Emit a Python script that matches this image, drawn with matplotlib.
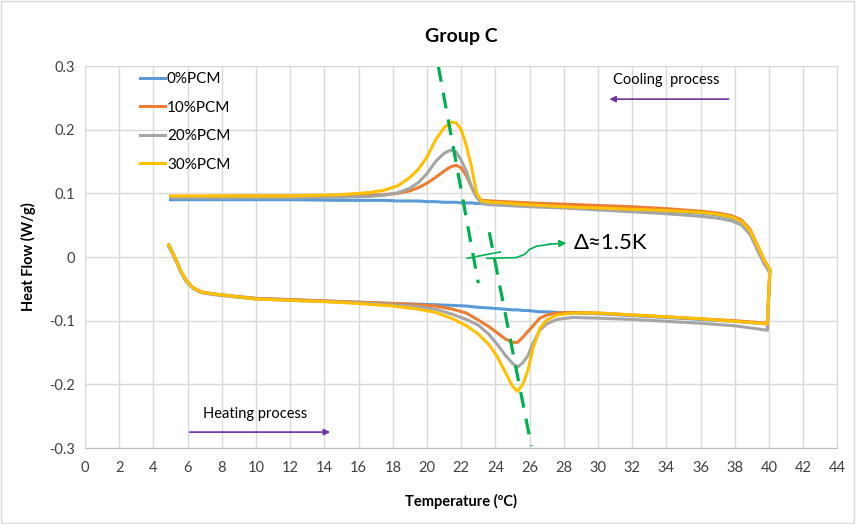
import matplotlib.pyplot as plt
from matplotlib.patches import Rectangle

plt.rcParams['font.family'] = ['Lato', 'DejaVu Sans']

series_labels = ['0%PCM', '10%PCM', '20%PCM', '30%PCM']
series_colors = ['#5B9BD5', '#ED7D31', '#A5A5A5', '#FFC000']

# heating branch (5 -> 40 C)
heat_x = [4.9, 5.1, 5.35, 5.6, 5.9, 6.3, 6.8, 7.5, 8.5, 10, 12, 14, 16, 18, 19.5, 20.5, 21.5, 22.3, 23.0,
          23.6, 24.1, 24.6, 25.0, 25.3, 25.6, 25.9, 26.2, 26.6, 27.0, 27.6, 28.5, 30, 32, 34, 36, 38, 39.9]
heat_0 = [0.019, 0.008, -0.006, -0.022, -0.036, -0.048, -0.055, -0.058, -0.061, -0.065, -0.067, -0.069,
          -0.071, -0.073, -0.074, -0.075, -0.076, -0.077, -0.079, -0.080, -0.081, -0.082, -0.083, -0.083,
          -0.084, -0.084, -0.085, -0.086, -0.086, -0.087, -0.088, -0.089, -0.092, -0.095, -0.098, -0.101, -0.105]
heat_10 = [0.019, 0.008, -0.006, -0.022, -0.036, -0.048, -0.055, -0.058, -0.061, -0.065, -0.067, -0.069,
           -0.071, -0.073, -0.075, -0.077, -0.082, -0.088, -0.099, -0.109, -0.119, -0.129, -0.134, -0.134,
           -0.126, -0.117, -0.108, -0.096, -0.091, -0.088, -0.087, -0.088, -0.091, -0.094, -0.097, -0.100, -0.104]
heat_20 = [0.016, 0.006, -0.008, -0.024, -0.038, -0.049, -0.056, -0.059, -0.062, -0.066, -0.068, -0.070,
           -0.072, -0.075, -0.078, -0.082, -0.090, -0.098, -0.107, -0.121, -0.137, -0.155, -0.167, -0.173,
           -0.166, -0.155, -0.135, -0.115, -0.105, -0.098, -0.095, -0.096, -0.098, -0.101, -0.104, -0.108, -0.115]
heat_30 = [0.019, 0.008, -0.006, -0.022, -0.036, -0.048, -0.055, -0.058, -0.061, -0.066, -0.068, -0.070,
           -0.073, -0.077, -0.082, -0.087, -0.097, -0.108, -0.121, -0.137, -0.156, -0.182, -0.203, -0.211,
           -0.200, -0.178, -0.143, -0.112, -0.099, -0.091, -0.088, -0.088, -0.091, -0.094, -0.097, -0.101, -0.105]

# cooling branch (40 -> 5 C)
cool_x = [40.05, 39.7, 39.3, 38.9, 38.4, 37.8, 37, 36, 34, 32, 30, 28, 26, 24.5, 23.8, 23.2, 22.9, 22.6,
          22.3, 22.0, 21.7, 21.4, 21.0, 20.5, 20.0, 19.5, 19.0, 18.3, 17.5, 16.5, 15, 12, 9, 7, 5]
cool_0 = [-0.02, -0.005, 0.018, 0.040, 0.055, 0.062, 0.066, 0.069, 0.072, 0.075, 0.077, 0.079, 0.081,
          0.083, 0.083, 0.084, 0.084, 0.085, 0.085, 0.085, 0.086, 0.086, 0.086, 0.087, 0.087, 0.088, 0.088,
          0.088, 0.089, 0.089, 0.089, 0.090, 0.090, 0.090, 0.090]
cool_10 = [-0.02, -0.004, 0.020, 0.043, 0.058, 0.065, 0.069, 0.072, 0.076, 0.079, 0.081, 0.083, 0.085,
           0.087, 0.088, 0.089, 0.095, 0.110, 0.128, 0.140, 0.144, 0.142, 0.135, 0.125, 0.116, 0.109, 0.104,
           0.100, 0.098, 0.097, 0.096, 0.096, 0.096, 0.095, 0.095]
cool_20 = [-0.025, -0.010, 0.012, 0.035, 0.050, 0.057, 0.061, 0.064, 0.068, 0.071, 0.074, 0.077, 0.079,
           0.081, 0.082, 0.084, 0.094, 0.110, 0.135, 0.152, 0.165, 0.168, 0.163, 0.150, 0.131, 0.117, 0.108,
           0.101, 0.097, 0.095, 0.094, 0.093, 0.093, 0.093, 0.093]
cool_30 = [-0.02, -0.004, 0.019, 0.041, 0.056, 0.063, 0.067, 0.070, 0.073, 0.075, 0.077, 0.079, 0.082,
           0.085, 0.086, 0.088, 0.100, 0.142, 0.175, 0.200, 0.211, 0.212, 0.203, 0.184, 0.157, 0.138, 0.125,
           0.112, 0.105, 0.101, 0.098, 0.096, 0.096, 0.096, 0.096]

heat_all = [heat_0, heat_10, heat_20, heat_30]
cool_all = [cool_0, cool_10, cool_20, cool_30]

fig = plt.figure(figsize=(8.56, 5.24), dpi=100)
ax = fig.add_axes([0.0993, 0.145, 0.879, 0.729])
fig.patches.append(Rectangle((0.001, 0.001), 0.997, 0.997, transform=fig.transFigure,
                             fill=False, edgecolor='#D9D9D9', linewidth=1))

for lab, col, h, c in zip(series_labels, series_colors, heat_all, cool_all):
    ax.plot(heat_x + cool_x, h + c, color=col, linewidth=2.2, label=lab)

# green dashed guide lines
ax.plot([20.66, 23.0], [0.3, -0.041], color='#00B050', linewidth=2.3, dashes=(5, 3.5))
ax.plot([23.64, 26.1], [0.039, -0.297], color='#00B050', linewidth=2.3, dashes=(5, 3.5))
ax.plot([22.35, 24.28], [-0.002, 0.008], color='#00B050', linewidth=1.2)
ax.plot([23.5, 25.2, 25.7, 26.0, 26.4, 27.2], [-0.002, -0.001, 0.004, 0.012, 0.017, 0.020],
        color='#00B050', linewidth=1.2)
ax.annotate('', xy=(28.15, 0.022), xytext=(27.1, 0.020),
            arrowprops=dict(arrowstyle='-|>', color='#00B050', lw=1.2, mutation_scale=10,
                            shrinkA=0, shrinkB=0))
ax.text(28.6, 0.022, 'Δ≈1.5K', fontsize=16, va='center', ha='left')

# process arrows
ax.annotate('', xy=(30.5, 0.248), xytext=(37.8, 0.248),
            arrowprops=dict(arrowstyle='-|>', color='#7030A0', lw=1.2, mutation_scale=9))
ax.text(30.9, 0.278, 'Cooling  process', fontsize=10.5, va='center', ha='left')
ax.annotate('', xy=(14.5, -0.275), xytext=(5.95, -0.275),
            arrowprops=dict(arrowstyle='-|>', color='#7030A0', lw=1.2, mutation_scale=9))
ax.text(6.9, -0.246, 'Heating process', fontsize=10.5, va='center', ha='left')

ax.set_xlim(0, 44)
ax.set_ylim(-0.3, 0.3)
ax.set_xticks(range(0, 45, 2))
ax.set_yticks([-0.3, -0.2, -0.1, 0, 0.1, 0.2, 0.3])
ax.set_yticklabels(['-0.3', '-0.2', '-0.1', '0', '0.1', '0.2', '0.3'])
ax.tick_params(length=0, labelsize=10.5, colors='#404040')
ax.tick_params(axis='x', pad=9)
ax.tick_params(axis='y', pad=7)
ax.grid(True, color='#D9D9D9', linewidth=1)
ax.set_axisbelow(True)
for s in ax.spines.values():
    s.set_color('#D9D9D9')
ax.spines['bottom'].set_color('#BFBFBF')

ax.set_xlabel('Temperature (ºC)', fontsize=10.5, fontweight='bold', labelpad=14)
ax.set_ylabel('Heat Flow (W/g)', fontsize=10.5, fontweight='bold', labelpad=10)
ax.set_title('Group C', fontsize=14, fontweight='bold', pad=17)

ax.legend(loc='upper left', bbox_to_anchor=(0.055, 1.02), frameon=False, fontsize=11,
          handlelength=1.6, handletextpad=0.15, labelspacing=0.95)

plt.savefig('out.png', dpi=100)
